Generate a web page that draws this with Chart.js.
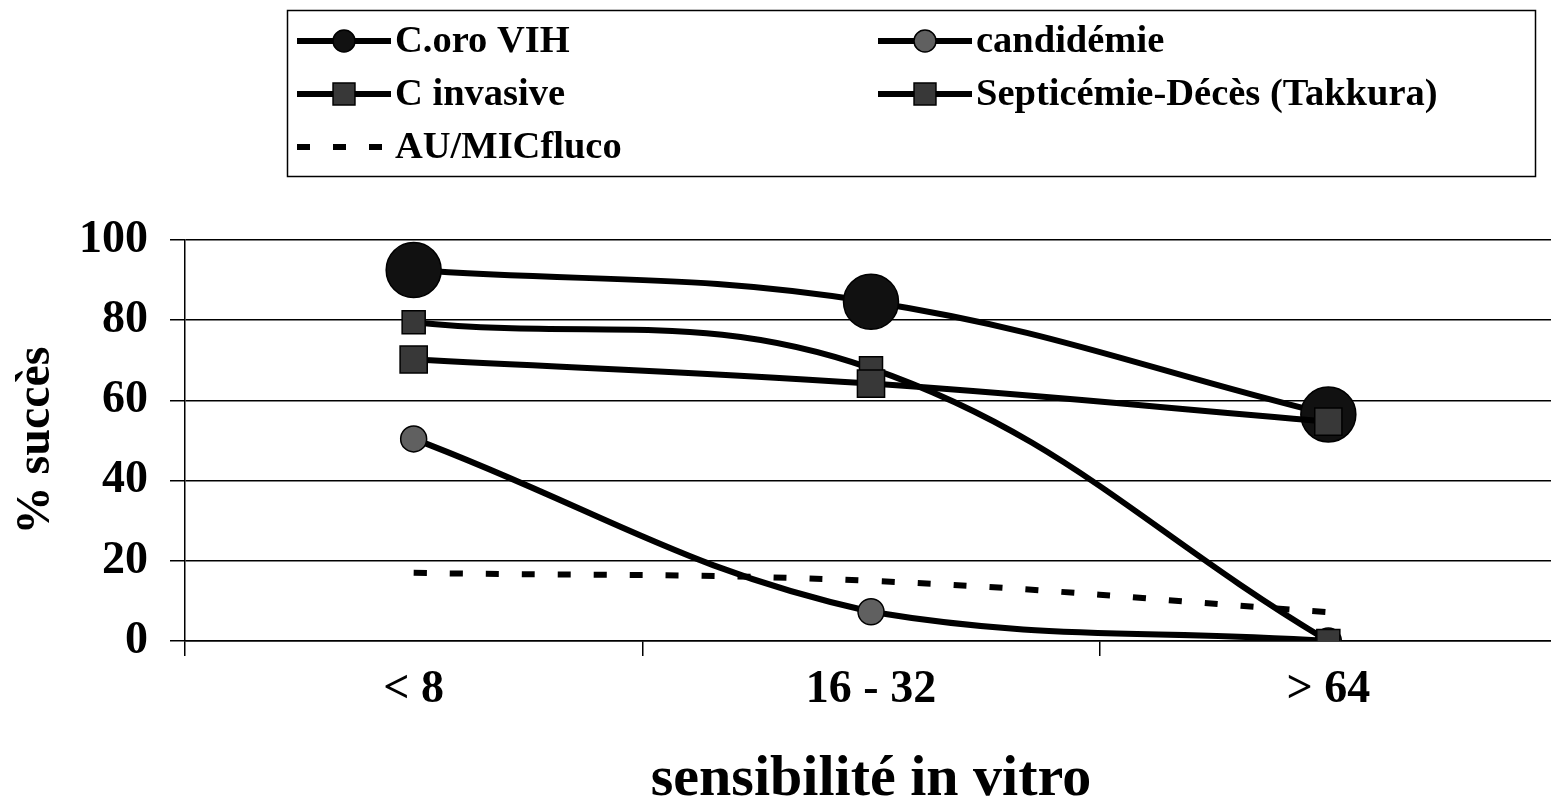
<!DOCTYPE html>
<html>
<head>
<meta charset="utf-8">
<script src="https://cdn.jsdelivr.net/npm/chart.js@4/dist/chart.umd.min.js"></script>
<style>
  html, body { margin: 0; padding: 0; background: #fff; overflow: hidden; }
  canvas { display: block; }
</style>
</head>
<body>
<canvas id="c" width="1586" height="807"></canvas>
<script>
// Fluconazole in vitro susceptibility vs. clinical success
const categories = ['< 8', '16 - 32', '> 64'];
const coroVIH = [92.5, 84.6, 56.5];
const candidemie = [50.4, 7.3, 0];
const cInvasive = [79.5, 68, 0];
const septicemie = [70.2, 64.2, 54.7];
const auMicFluco = [17, 15, 7.2];
const seriesNames = ['C.oro VIH', 'candidémie', 'C invasive', 'Septicémie-Décès (Takkura)', 'AU/MICfluco'];
const yTicks = [0, 20, 40, 60, 80, 100];

const SERIF = '"Liberation Serif", "Times New Roman", serif';

// Legend drawn in a framed box above the plot, two columns
const legendBox = {
  id: 'legendBox',
  afterDraw(chart) {
    const ctx = chart.ctx;
    ctx.save();
    ctx.strokeStyle = '#000';
    ctx.lineWidth = 1.5;
    ctx.strokeRect(287.5, 10.5, 1248, 166);
    const cols = [297, 878];
    const rows = [41, 94, 147];
    const symLen = 94;
    const legendRadius = { circle: 11, rect: 15.5 };
    chart.data.datasets.forEach((ds, i) => {
      const x0 = cols[i % 2];
      const y = rows[Math.floor(i / 2)];
      ctx.save();
      ctx.strokeStyle = ds.borderColor;
      ctx.lineWidth = ds.borderWidth;
      ctx.setLineDash(ds.borderDash || []);
      ctx.lineCap = 'butt';
      ctx.beginPath();
      ctx.moveTo(x0, y);
      ctx.lineTo(x0 + symLen, y);
      ctx.stroke();
      ctx.restore();
      if (ds.pointRadius > 0) {
        ctx.save();
        ctx.fillStyle = ds.pointBackgroundColor;
        ctx.strokeStyle = ds.pointBorderColor;
        ctx.lineWidth = ds.pointBorderWidth;
        Chart.helpers.drawPoint(ctx, {
          pointStyle: ds.pointStyle,
          radius: legendRadius[ds.pointStyle],
          borderWidth: ds.pointBorderWidth,
          rotation: 0
        }, x0 + symLen / 2, y);
        ctx.restore();
      }
      ctx.fillStyle = '#000';
      ctx.font = 'bold 38.5px ' + SERIF;
      ctx.textBaseline = 'middle';
      ctx.textAlign = 'left';
      ctx.fillText(ds.label, x0 + symLen + 4, y + 1);
    });
    ctx.restore();
  }
};

function series(label, data, style, radius, fill, order, dash) {
  return {
    label: label,
    data: data,
    borderColor: '#000',
    borderWidth: 6,
    borderDash: dash || [],
    tension: 0.4,
    fill: false,
    pointStyle: style,
    pointRadius: radius,
    pointHoverRadius: radius,
    pointBackgroundColor: fill,
    pointBorderColor: '#000',
    pointBorderWidth: 1.5,
    order: order
  };
}

new Chart(document.getElementById('c'), {
  type: 'line',
  data: {
    labels: categories,
    datasets: [
      series(seriesNames[0], coroVIH, 'circle', 27.5, '#111111', 5),
      series(seriesNames[1], candidemie, 'circle', 13, '#606060', 4),
      series(seriesNames[2], cInvasive, 'rect', 16.3, '#383838', 3),
      series(seriesNames[3], septicemie, 'rect', 19.2, '#383838', 2),
      series(seriesNames[4], auMicFluco, false, 0, '#000', 1, [13, 23])
    ]
  },
  options: {
    responsive: false,
    animation: false,
    layout: { padding: { top: 240, right: 4, left: 0, bottom: 0 } },
    plugins: {
      legend: { display: false },
      tooltip: { enabled: false }
    },
    scales: {
      x: {
        type: 'category',
        offset: true,
        afterFit(scale) {
          scale.height = 166;
          scale.paddingLeft = 0;
          scale.paddingRight = 0;
        },
        grid: {
          offset: true,
          drawOnChartArea: false,
          drawTicks: true,
          tickLength: 15,
          color: '#000',
          lineWidth: 1.5
        },
        border: { display: true, color: '#000', width: 1.5 },
        ticks: {
          color: '#000',
          padding: 7,
          maxRotation: 0,
          font: { family: SERIF, size: 46, weight: 'bold' }
        },
        title: {
          display: true,
          text: 'sensibilité in vitro',
          color: '#000',
          padding: { top: 0, bottom: -8 },
          font: { family: SERIF, size: 58, weight: 'bold' }
        }
      },
      y: {
        min: 0,
        max: 100,
        afterFit(scale) { scale.width = 185; },
        afterBuildTicks(scale) { scale.ticks = yTicks.map(v => ({ value: v })); },
        grid: {
          drawOnChartArea: true,
          drawTicks: true,
          tickLength: 15,
          color: '#000',
          lineWidth: 1.5
        },
        border: { display: true, color: '#000', width: 1.5 },
        ticks: {
          color: '#000',
          padding: 22,
          font: { family: SERIF, size: 46, weight: 'bold' }
        },
        title: {
          display: true,
          text: '% succès',
          color: '#000',
          padding: { top: 7.6, bottom: 0 },
          font: { family: SERIF, size: 48, weight: 'bold' }
        }
      }
    }
  },
  plugins: [legendBox]
});
</script>
</body>
</html>
